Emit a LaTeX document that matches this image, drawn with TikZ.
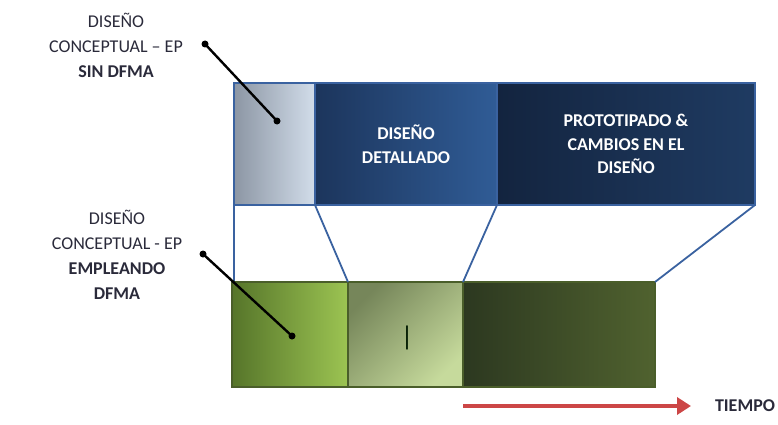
\documentclass[tikz,border=0pt]{standalone}
\usepackage{fontspec}
\setmainfont{Carlito}
\usetikzlibrary{arrows.meta}
\definecolor{outl}{HTML}{3A62A0}
\definecolor{gout}{HTML}{4A5E2A}
\definecolor{labtxt}{HTML}{2A2A3A}
\definecolor{arrred}{HTML}{CC4646}
\definecolor{aL}{HTML}{8C96A4}
\definecolor{aR}{HTML}{D2DDEA}
\definecolor{bL}{HTML}{1C355C}
\definecolor{bR}{HTML}{305C96}
\definecolor{cL}{HTML}{13243F}
\definecolor{cR}{HTML}{1F3B62}
\definecolor{gAL}{HTML}{56752A}
\definecolor{gAR}{HTML}{9CC452}
\definecolor{gBL}{HTML}{76865A}
\definecolor{gBR}{HTML}{C6DA9C}
\definecolor{gCL}{HTML}{2C3820}
\definecolor{gCR}{HTML}{50622F}
\tikzset{
  bar/.style={draw, line width=1.4pt, anchor=north west, inner sep=0pt, outer sep=0pt},
  topbar/.style={bar, draw=outl, minimum height=122pt, text=white, font=\fontsize{18}{23.5}\selectfont\bfseries, align=center},
  botbar/.style={bar, draw=gout, minimum height=105pt},
  link/.style={draw=outl, line width=1.8pt},
  pin/.style={line width=2.4pt, black},
  pdot/.style={circle, fill=black, inner sep=0pt, minimum size=7pt},
  lab/.style={align=center, text=labtxt, font=\fontsize{18}{25}\selectfont}
}
\begin{document}
\begin{tikzpicture}[x=1pt,y=-1pt]
\useasboundingbox (0,0) rectangle (778,425);
% top bar
\node[topbar, minimum width=81pt, left color=aL, right color=aR] (b1) at (234,83) {};
\node[topbar, minimum width=182pt, left color=bL, right color=bR] (b2) at (315,83) {DISEÑO\\DETALLADO};
\node[topbar, minimum width=258pt, left color=cL, right color=cR] (b3) at (497,83) {PROTOTIPADO \&\\CAMBIOS EN EL\\DISEÑO};
% links
\coordinate (lend) at (234,315);
\draw[link] (b1.south west) -- (lend);
% bottom bar
\node[botbar, minimum width=116pt, left color=gAL, right color=gAR] (gA) at (232,282) {};
\node[botbar, minimum width=115pt, left color=gBL, right color=gBR, shading angle=45] (gB) at (348,282) {};
\node[botbar, minimum width=192pt, left color=gCL, right color=gCR] (gC) at (463,282) {};
\node[font=\fontsize{27}{27}\selectfont, text=black!90!green, inner sep=0pt] (cur) at (407,338) {|};
\draw[link] (b1.south east) -- (gB.north west);
\draw[link] (b2.south east) -- (gC.north west);
\draw[link] (b3.south east) -- (gC.north east);
% labels
\node[lab] (l1) at (116,45) {DISEÑO\\CONCEPTUAL – EP\\\textbf{SIN DFMA}};
\node[lab] (l2) at (117,255) {DISEÑO\\CONCEPTUAL - EP\\\textbf{EMPLEANDO}\\\textbf{DFMA}};
% pins
\node[pdot] (p1a) at (205,44) {};
\node[pdot] (p1b) at (277,121) {};
\node[pdot] (p2a) at (203,254) {};
\node[pdot] (p2b) at (292,336) {};
\draw[pin] (p1a.center) -- (p1b.center);
\draw[pin] (p2a.center) -- (p2b.center);
% time arrow
\node[font=\fontsize{18}{18}\selectfont\bfseries, text=labtxt] (t) at (745,406) {TIEMPO};
\coordinate (ts) at (463,406);
\coordinate (te) at (691,406);
\draw[arrred, line width=4pt, -{Triangle[length=14pt,width=17pt]}] (ts) -- (te);
\end{tikzpicture}
\end{document}
